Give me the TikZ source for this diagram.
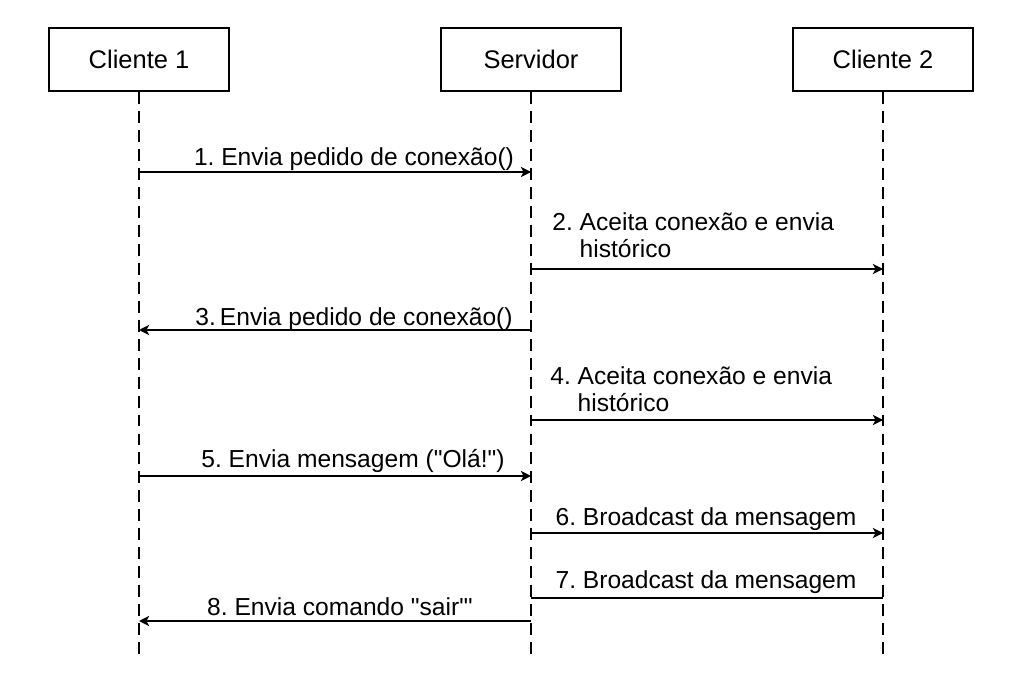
\documentclass[tikz,border=0pt]{standalone}
\usepackage{fontspec}
\newfontfamily\lbf{Liberation Sans}
\usetikzlibrary{arrows.meta}
\begin{document}
\begin{tikzpicture}[x=0.02cm,y=-0.02cm,
  actor/.style={draw, line width=1.1pt, minimum width=3.6cm, minimum height=1.26cm, inner sep=0pt, font=\lbf\fontsize{14.5}{16}\selectfont},
  lifeline/.style={line width=0.85pt, dash pattern=on 6.8pt off 4pt},
  msg/.style={line width=1.1pt, -{Stealth[length=5.8pt,width=5.8pt,inset=1.6pt]}},
  plain/.style={line width=1.1pt},
  lbl/.style={inner sep=0pt, font=\lbf\frenchspacing\fontsize{14}{15}\selectfont, align=left}]
\useasboundingbox (0,0) rectangle (1024,682);
% actors
\node[actor] (c1) at (139,59.5) {Cliente 1};
\node[actor] (sv) at (531,59.5) {Servidor};
\node[actor] (c2) at (883,59.5) {Cliente 2};
% lifeline ends
\coordinate (c1e) at (139,655);
\coordinate (sve) at (531,655);
\coordinate (c2e) at (883,655);
\draw[lifeline] (c1.south) -- (c1e);
\draw[lifeline] (sv.south) -- (sve);
\draw[lifeline] (c2.south) -- (c2e);
% message points
\coordinate (a1) at (139,172); \coordinate (b1) at (531,172);
\coordinate (a2) at (531,269); \coordinate (b2) at (883,269);
\coordinate (a3) at (531,330); \coordinate (b3) at (139,330);
\coordinate (a4) at (531,420); \coordinate (b4) at (883,420);
\coordinate (a5) at (139,476); \coordinate (b5) at (531,476);
\coordinate (a6) at (531,533); \coordinate (b6) at (883,533);
\coordinate (a7) at (883,598); \coordinate (b7) at (531,598);
\coordinate (a8) at (531,621); \coordinate (b8) at (139,621);
\draw[msg] (a1) -- (b1);
\draw[msg] (a2) -- (b2);
\draw[msg] (a3) -- (b3);
\draw[msg] (a4) -- (b4);
\draw[msg] (a5) -- (b5);
\draw[msg] (a6) -- (b6);
\draw[plain] (a7) -- (b7);
\draw[msg] (a8) -- (b8);
% labels
\node[lbl, anchor=base] (l1) at (354,166) {1. Envia pedido de conexão()};
\node[lbl, anchor=base west] (l2) at (552,257) {2. Aceita conexão e envia\\\hphantom{2. }histórico};
\node[lbl, anchor=base] (l3) at (354,325) {3.\,Envia pedido de conexão()};
\node[lbl, anchor=base west] (l4) at (550,411) {4. Aceita conexão e envia\\\hphantom{4. }histórico};
\node[lbl, anchor=base] (l5) at (353,467) {5. Envia mensagem ("Olá!")};
\node[lbl, anchor=base] (l6) at (706,525) {6. Broadcast da mensagem};
\node[lbl, anchor=base] (l7) at (706,588) {7. Broadcast da mensagem};
\node[lbl, anchor=base] (l8) at (340,615) {8. Envia comando "sair"'};
\end{tikzpicture}
\end{document}
